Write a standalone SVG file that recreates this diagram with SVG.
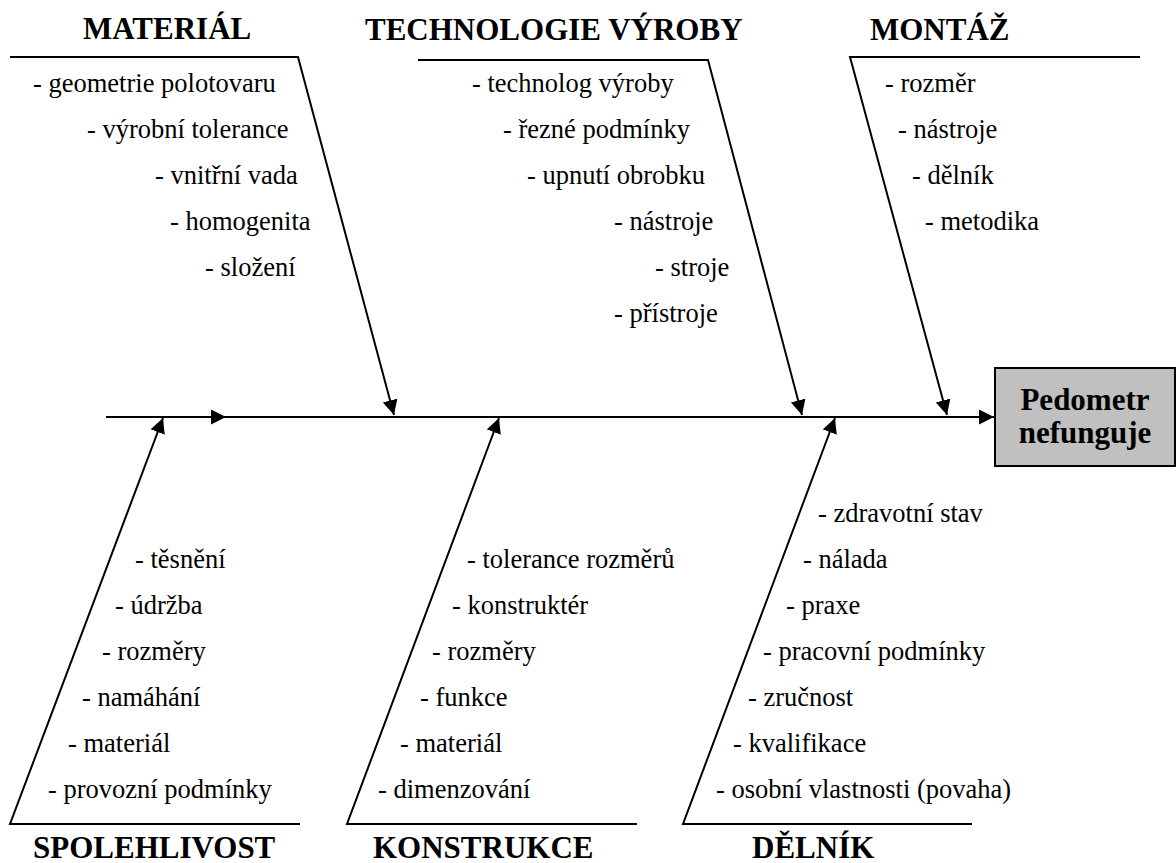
<svg xmlns="http://www.w3.org/2000/svg" width="1176" height="863" viewBox="0 0 1176 863">
<style>
.t{font-family:"Liberation Serif","Times New Roman",serif;font-size:26.5px;font-weight:normal;fill:#000}
.h{font-family:"Liberation Serif","Times New Roman",serif;font-size:31px;font-weight:bold;fill:#000}
.ln{stroke:#000;stroke-width:2;fill:none}
</style>
<defs>
<marker id="ah" markerUnits="userSpaceOnUse" markerWidth="16" markerHeight="16" refX="15" refY="7.5" orient="auto">
<path d="M0,0 L15,7.5 L0,15 z" fill="#000"/>
</marker>
</defs>
<rect width="1176" height="863" fill="#fff"/>
<g id="connectors">
<line class="ln" x1="106" y1="417" x2="226" y2="417" marker-end="url(#ah)"/>
<line class="ln" x1="226" y1="417" x2="994" y2="417" marker-end="url(#ah)"/>
<polyline class="ln" points="10,57 298,57 394,415" marker-end="url(#ah)"/>
<polyline class="ln" points="418,60 708,60 802,415" marker-end="url(#ah)"/>
<polyline class="ln" points="1140,57 850,57 947,415" marker-end="url(#ah)"/>
<polyline class="ln" points="300,824 10,824 163,418" marker-end="url(#ah)"/>
<polyline class="ln" points="637,824 347,824 499,418" marker-end="url(#ah)"/>
<polyline class="ln" points="972,824 683,824 835,418" marker-end="url(#ah)"/>
</g>
<g id="effect">
<rect x="995" y="368" width="180" height="98" fill="#c0c0c0" stroke="#000" stroke-width="2"/>
<text class="h" x="1085" y="410" text-anchor="middle">Pedometr</text>
<text class="h" x="1085" y="443" text-anchor="middle">nefunguje</text>
</g>
<g id="material">
<text class="h" x="83" y="39">MATERIÁL</text>
<text class="t" x="33" y="92">- geometrie polotovaru</text>
<text class="t" x="87" y="138">- výrobní tolerance</text>
<text class="t" x="155" y="184">- vnitřní vada</text>
<text class="t" x="170" y="230">- homogenita</text>
<text class="t" x="205" y="276">- složení</text>
</g>
<g id="technologie">
<text class="h" x="365" y="40">TECHNOLOGIE VÝROBY</text>
<text class="t" x="472" y="92">- technolog výroby</text>
<text class="t" x="503" y="138">- řezné podmínky</text>
<text class="t" x="527" y="184">- upnutí obrobku</text>
<text class="t" x="614" y="230">- nástroje</text>
<text class="t" x="655" y="276">- stroje</text>
<text class="t" x="614" y="322">- přístroje</text>
</g>
<g id="montaz">
<text class="h" x="870" y="40">MONTÁŽ</text>
<text class="t" x="885" y="92">- rozměr</text>
<text class="t" x="898" y="138">- nástroje</text>
<text class="t" x="912" y="184">- dělník</text>
<text class="t" x="925" y="230">- metodika</text>
</g>
<g id="spolehlivost">
<text class="h" x="33" y="858">SPOLEHLIVOST</text>
<text class="t" x="135" y="568">- těsnění</text>
<text class="t" x="115" y="614">- údržba</text>
<text class="t" x="102" y="660">- rozměry</text>
<text class="t" x="82" y="706">- namáhání</text>
<text class="t" x="68" y="752">- materiál</text>
<text class="t" x="48" y="798">- provozní podmínky</text>
</g>
<g id="konstrukce">
<text class="h" x="373" y="858">KONSTRUKCE</text>
<text class="t" x="467" y="568">- tolerance rozměrů</text>
<text class="t" x="452" y="614">- konstruktér</text>
<text class="t" x="432" y="660">- rozměry</text>
<text class="t" x="420" y="706">- funkce</text>
<text class="t" x="400" y="752">- materiál</text>
<text class="t" x="378" y="798">- dimenzování</text>
</g>
<g id="delnik">
<text class="h" x="752" y="858">DĚLNÍK</text>
<text class="t" x="818" y="522">- zdravotní stav</text>
<text class="t" x="803" y="568">- nálada</text>
<text class="t" x="786" y="614">- praxe</text>
<text class="t" x="763" y="660">- pracovní podmínky</text>
<text class="t" x="748" y="706">- zručnost</text>
<text class="t" x="733" y="752">- kvalifikace</text>
<text class="t" x="716" y="798">- osobní vlastnosti (povaha)</text>
</g>
</svg>
